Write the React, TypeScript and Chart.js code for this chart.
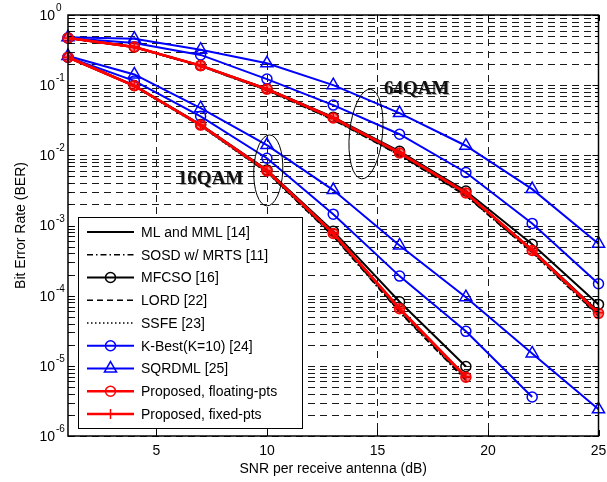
import React, { useEffect, useRef } from 'react';
import { Chart, registerables } from 'chart.js';
Chart.register(...registerables);

// ---------- data ----------
const snr = [1, 4, 7, 10, 13, 16, 19, 22, 25];
const xTickValues = [5, 10, 15, 20, 25];
const yDecadeExps = [0, -1, -2, -3, -4, -5, -6];

const legendLabels = [
  'ML and MML [14]',
  'SOSD w/ MRTS [11]',
  'MFCSO [16]',
  'LORD [22]',
  'SSFE [23]',
  'K-Best(K=10) [24]',
  'SQRDML [25]',
  'Proposed, floating-pts',
  'Proposed, fixed-pts',
];

// 16QAM
const ml16 = [0.25, 0.098, 0.027, 0.0060, 7.6e-4, 6.4e-5, 6.8e-6];
const sosd16 = [0.25, 0.096, 0.0262, 0.0057, 7.0e-4, 5.8e-5, 6.2e-6];
const mfcso16 = [0.25, 0.099, 0.0275, 0.0062, 8.3e-4, 8.2e-5, 9.8e-6];
const lord16 = [0.25, 0.097, 0.0265, 0.0058, 7.2e-4, 6.0e-5, 6.5e-6];
const ssfe16 = [0.25, 0.096, 0.026, 0.0057, 7.1e-4, 5.9e-5, 6.3e-6];
const kbest16 = [0.25, 0.115, 0.036, 0.0091, 1.45e-3, 1.9e-4, 3.1e-5, 3.6e-6];
const sqrdml16 = [0.26, 0.142, 0.047, 0.014, 3.2e-3, 5.2e-4, 9.5e-5, 1.5e-5, 2.4e-6];
const propFloat16 = [0.25, 0.098, 0.027, 0.0060, 7.7e-4, 6.5e-5, 6.9e-6];
const propFixed16 = [0.25, 0.098, 0.027, 0.0061, 7.8e-4, 6.6e-5, 7.0e-6];

// 64QAM
const ml64 = [0.47, 0.35, 0.19, 0.087, 0.034, 0.0106, 2.85e-3, 4.5e-4, 5.9e-5];
const sosd64 = [0.47, 0.345, 0.186, 0.084, 0.032, 0.0100, 2.65e-3, 4.1e-4, 5.1e-5];
const mfcso64 = [0.47, 0.35, 0.19, 0.089, 0.035, 0.0114, 3.1e-3, 5.4e-4, 7.5e-5];
const lord64 = [0.47, 0.347, 0.187, 0.085, 0.0325, 0.0102, 2.7e-3, 4.2e-4, 5.3e-5];
const ssfe64 = [0.47, 0.346, 0.186, 0.0845, 0.0322, 0.0101, 2.68e-3, 4.15e-4, 5.2e-5];
const kbest64 = [0.47, 0.40, 0.27, 0.122, 0.052, 0.020, 5.7e-3, 1.07e-3, 1.48e-4];
const sqrdml64 = [0.48, 0.46, 0.32, 0.205, 0.10, 0.040, 0.0137, 3.3e-3, 5.5e-4];
const propFloat64 = [0.47, 0.35, 0.19, 0.088, 0.034, 0.0108, 2.9e-3, 4.4e-4, 5.6e-5];
const propFixed64 = [0.47, 0.35, 0.19, 0.088, 0.0342, 0.0109, 2.92e-3, 4.45e-4, 5.7e-5];

// annotations: [text, x(dB), y(BER)]
const annotTexts: [string, number, number][] = [
  ['16QAM', 7.45, 4.6e-3],
  ['64QAM', 16.78, 0.088],
];
// ellipses: [x(dB), y(BER)]
const ellipseCenters: [number, number][] = [
  [10.06, 6.1e-3],
  [14.48, 0.0201],
];

// ---------- styles ----------
type Style = {
  color: string;
  width: number;
  dash: number[];
  point: string | false;
  radius: number;
  fill?: string;
};
const styles: Style[] = [
  { color: '#000', width: 2, dash: [], point: false, radius: 0 },
  { color: '#000', width: 1.5, dash: [6, 3, 1.5, 3], point: false, radius: 0 },
  { color: '#000', width: 2, dash: [], point: 'circle', radius: 5 },
  { color: '#000', width: 1.5, dash: [6, 4], point: false, radius: 0 },
  { color: '#000', width: 1.5, dash: [1.5, 2.5], point: false, radius: 0 },
  { color: '#0000ff', width: 2, dash: [], point: 'circle', radius: 5 },
  { color: '#0000ff', width: 2, dash: [], point: 'triangle', radius: 7 },
  { color: '#ff0000', width: 2.5, dash: [], point: 'circle', radius: 5, fill: 'rgba(255,0,0,0.55)' },
  { color: '#ff0000', width: 2.5, dash: [], point: 'cross', radius: 5 },
];

const series16 = [ml16, sosd16, mfcso16, lord16, ssfe16, kbest16, sqrdml16, propFloat16, propFixed16];
const series64 = [ml64, sosd64, mfcso64, lord64, ssfe64, kbest64, sqrdml64, propFloat64, propFixed64];

const FONT = '"Liberation Sans", Arial, Helvetica, sans-serif';

function toPts(vals: number[]) {
  return vals.map((v, i) => ({ x: snr[i], y: v }));
}

function drawMarker(ctx: CanvasRenderingContext2D, kind: string | false, x: number, y: number, r: number, color: string) {
  if (!kind) return;
  ctx.save();
  ctx.setLineDash([]);
  ctx.strokeStyle = color;
  ctx.lineWidth = 1.5;
  ctx.beginPath();
  if (kind === 'circle') {
    ctx.arc(x, y, r, 0, Math.PI * 2);
  } else if (kind === 'triangle') {
    ctx.moveTo(x, y - r);
    ctx.lineTo(x + r * 0.866, y + r * 0.5);
    ctx.lineTo(x - r * 0.866, y + r * 0.5);
    ctx.closePath();
  } else if (kind === 'cross') {
    ctx.moveTo(x - r, y);
    ctx.lineTo(x + r, y);
    ctx.moveTo(x, y - r);
    ctx.lineTo(x, y + r);
  }
  ctx.stroke();
  ctx.restore();
}

const decorPlugin = {
  id: 'decor',
  beforeDatasetsDraw(chart: any) {
    const { ctx, chartArea: a, scales } = chart;
    const xs = scales.x;
    const ys = scales.y;
    ctx.save();
    ctx.strokeStyle = '#1a1a1a';
    ctx.lineWidth = 1;
    ctx.setLineDash([7, 5]);
    for (let e = -6; e <= 0; e++) {
      for (let m = 1; m <= 9; m++) {
        if (e === 0 && m > 1) break;
        const v = m * Math.pow(10, e);
        const y = Math.round(ys.getPixelForValue(v)) + 0.5;
        ctx.beginPath();
        ctx.moveTo(a.left, y);
        ctx.lineTo(a.right, y);
        ctx.stroke();
      }
    }
    for (const t of xTickValues) {
      if (t >= 25) continue;
      const x = Math.round(xs.getPixelForValue(t)) + 0.5;
      ctx.beginPath();
      ctx.moveTo(x, a.top);
      ctx.lineTo(x, a.bottom);
      ctx.stroke();
    }
    ctx.restore();
  },
  afterDatasetsDraw(chart: any) {
    const { ctx, chartArea: a, scales } = chart;
    const xs = scales.x;
    const ys = scales.y;
    ctx.save();
    ctx.setLineDash([]);
    ctx.strokeStyle = '#000';
    ctx.lineWidth = 1;
    for (let e = -6; e <= 0; e++) {
      for (let m = 1; m <= 9; m++) {
        if (e === 0 && m > 1) break;
        const v = m * Math.pow(10, e);
        const y = Math.round(ys.getPixelForValue(v)) + 0.5;
        const len = m === 1 ? 6 : 3.5;
        ctx.beginPath();
        ctx.moveTo(a.left, y);
        ctx.lineTo(a.left + len, y);
        ctx.moveTo(a.right, y);
        ctx.lineTo(a.right - len, y);
        ctx.stroke();
      }
    }
    for (const t of xTickValues) {
      const x = Math.round(xs.getPixelForValue(t)) + 0.5;
      ctx.beginPath();
      ctx.moveTo(x, a.bottom);
      ctx.lineTo(x, a.bottom - 6);
      ctx.moveTo(x, a.top);
      ctx.lineTo(x, a.top + 6);
      ctx.stroke();
    }
    ctx.lineWidth = 1.5;
    ctx.strokeRect(a.left, a.top, a.right - a.left, a.bottom - a.top);

    // ellipses
    ctx.lineWidth = 1;
    const eSizes = [
      [14.5, 35.5, 0.04],
      [16.5, 45, 0.1],
    ];
    ellipseCenters.forEach(([ex, ey], i) => {
      const cx = xs.getPixelForValue(ex);
      const cy = ys.getPixelForValue(ey);
      ctx.beginPath();
      ctx.ellipse(cx, cy, eSizes[i][0], eSizes[i][1], eSizes[i][2], 0, Math.PI * 2);
      ctx.stroke();
    });

    // annotation texts
    ctx.font = 'bold 19px "Liberation Serif", "Times New Roman", serif';
    ctx.textAlign = 'center';
    ctx.textBaseline = 'middle';
    annotTexts.forEach(([txt, tx, ty]) => {
      const px = xs.getPixelForValue(tx);
      const py = ys.getPixelForValue(ty);
      ctx.fillStyle = 'rgba(0,0,0,0.35)';
      ctx.fillText(txt, px + 1, py + 1);
      ctx.fillStyle = '#111';
      ctx.fillText(txt, px, py);
    });

    // legend
    const lx = 78.5, ly = 217.5, lw = 224, lh = 211;
    ctx.fillStyle = '#fff';
    ctx.fillRect(lx, ly, lw, lh);
    ctx.strokeStyle = '#000';
    ctx.lineWidth = 1;
    ctx.strokeRect(lx, ly, lw, lh);
    ctx.font = '14px ' + FONT;
    ctx.textAlign = 'left';
    ctx.textBaseline = 'middle';
    legendLabels.forEach((lab, i) => {
      const st = styles[i];
      const y = 232 + i * 22.75;
      ctx.save();
      ctx.strokeStyle = st.color;
      ctx.lineWidth = st.width;
      ctx.setLineDash(st.dash);
      ctx.beginPath();
      ctx.moveTo(87, y);
      ctx.lineTo(134, y);
      ctx.stroke();
      ctx.restore();
      drawMarker(ctx, st.point, 110.5, y, st.radius, st.color);
      ctx.fillStyle = '#000';
      ctx.fillText(lab, 141, y + 1);
    });

    // y decade labels
    ctx.fillStyle = '#000';
    yDecadeExps.forEach((e) => {
      const y = ys.getPixelForValue(Math.pow(10, e));
      ctx.font = '14px ' + FONT;
      ctx.textAlign = 'right';
      ctx.textBaseline = 'middle';
      ctx.fillText('10', 55, y + 1);
      ctx.font = '10px ' + FONT;
      ctx.textAlign = 'left';
      ctx.textBaseline = 'alphabetic';
      ctx.fillText(String(e), 56, y - 4);
    });

    // x tick labels
    ctx.font = '14px ' + FONT;
    ctx.textAlign = 'center';
    ctx.textBaseline = 'middle';
    xTickValues.forEach((t) => {
      ctx.fillText(String(t), xs.getPixelForValue(t), 451);
    });

    // axis titles
    ctx.fillText('SNR per receive antenna (dB)', (a.left + a.right) / 2, 469);
    ctx.save();
    ctx.translate(21, (a.top + a.bottom) / 2);
    ctx.rotate(-Math.PI / 2);
    ctx.fillText('Bit Error Rate (BER)', 0, 0);
    ctx.restore();

    ctx.restore();
  },
};

export default function App() {
  const ref = useRef<HTMLCanvasElement | null>(null);
  useEffect(() => {
    if (!ref.current) return;
    const datasets: any[] = [];
    const n = styles.length;
    [series16, series64].forEach((group, g) => {
      group.forEach((vals, i) => {
        const st = styles[i];
        datasets.push({
          label: legendLabels[i] + (g === 0 ? ' 16QAM' : ' 64QAM'),
          data: toPts(vals),
          borderColor: st.color,
          backgroundColor: st.fill || 'rgba(0,0,0,0)',
          borderWidth: st.width,
          borderDash: st.dash,
          pointStyle: st.point || 'circle',
          pointRadius: st.point ? st.radius : 0,
          pointBorderColor: st.color,
          pointBackgroundColor: st.fill || 'rgba(0,0,0,0)',
          pointBorderWidth: 1.5,
          tension: 0,
          fill: false,
          clip: false,
          order: n - i,
        });
      });
    });
    const chart = new Chart(ref.current, {
      type: 'line',
      data: { datasets },
      options: {
        animation: false,
        responsive: false,
        maintainAspectRatio: false,
        devicePixelRatio: 1,
        layout: { padding: { left: 68, top: 15, right: 5, bottom: 46 } },
        plugins: { legend: { display: false }, tooltip: { enabled: false }, title: { display: false } },
        scales: {
          x: { type: 'linear', min: 1, max: 25, display: false },
          y: { type: 'logarithmic', min: 1e-6, max: 1, display: false },
        },
      },
      plugins: [decorPlugin],
    });
    return () => chart.destroy();
  }, []);
  return (
    <div style={{ position: 'absolute', left: 0, top: 0, width: 607, height: 482, background: '#fff' }}>
      <canvas ref={ref} width={607} height={482} style={{ width: 607, height: 482, display: 'block' }} />
    </div>
  );
}
